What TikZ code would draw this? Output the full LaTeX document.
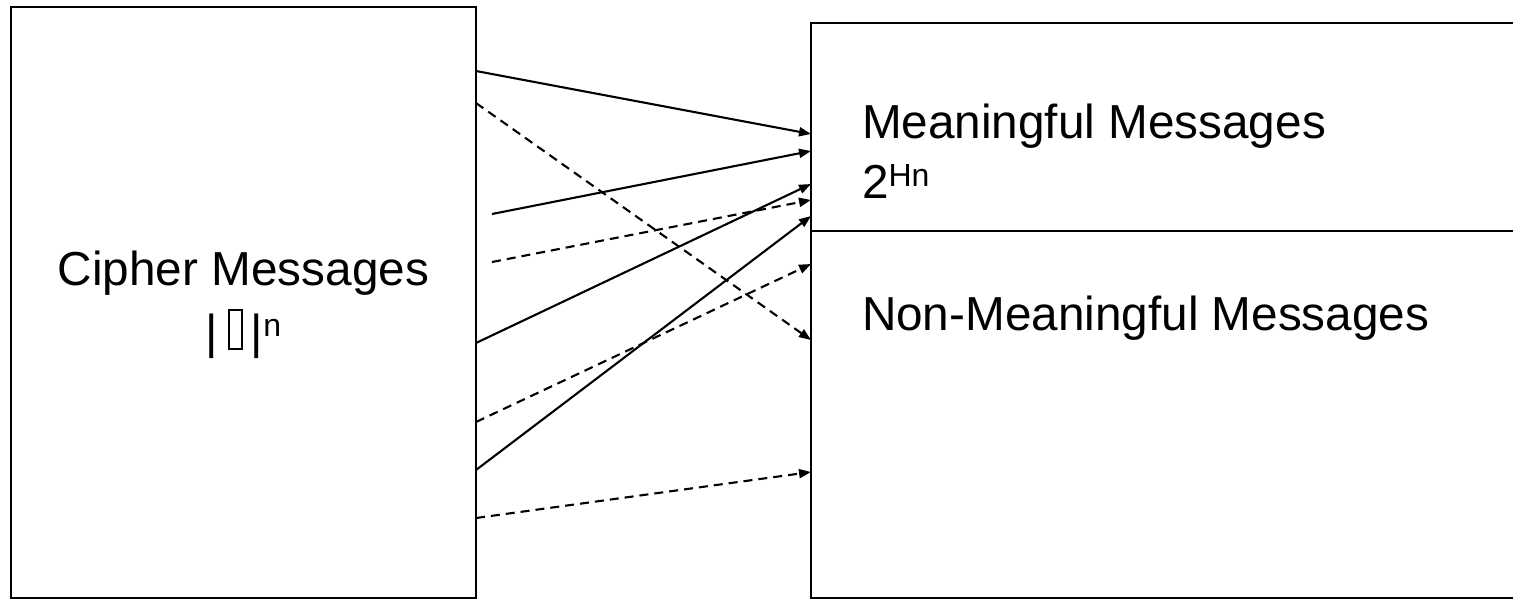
\documentclass[tikz,border=0pt]{standalone}
\usepackage{fontspec}
\setmainfont{Liberation Sans}
\usetikzlibrary{arrows.meta}

% raised small text for exponents
\newcommand\supr[1]{\raisebox{12pt}{\fontsize{32}{36}\selectfont #1}}
% hollow placeholder glyph
\newcommand\tofubox{\hspace*{10pt}\begingroup\setlength\fboxsep{0pt}\setlength\fboxrule{1.8pt}\fbox{\rule{0pt}{37pt}\hspace*{11pt}}\endgroup\hspace*{8pt}}

\begin{document}
\begin{tikzpicture}[x=1pt,y=-1pt,
  box/.style={draw, line width=2.4pt, inner sep=0pt, outer sep=0pt, anchor=north west},
  lbl/.style={font=\fontsize{47.7}{57}\selectfont, inner sep=0pt, outer sep=0pt},
  link/.style={line width=2.1pt, -{Triangle[length=12pt,width=9pt]}},
  dlink/.style={link, dash pattern=on 9pt off 6pt}]
\useasboundingbox (0,0) rectangle (1513,598);
\clip (0,0) rectangle (1513,598);

% the two message sets
\node[box, minimum width=465pt, minimum height=591pt] (cipher) at (11,7) {};
\node[box, minimum width=720pt, minimum height=575pt] (target) at (811,23) {};
\coordinate (divL) at (target.west |- 0,231);
\coordinate (divR) at (target.east |- 0,231);
\draw[line width=2.4pt] (divL) -- (divR);

% labels
\node[lbl, anchor=base] (ciphtxt) at (243.5,285) {Cipher Messages};
\node[lbl, anchor=base] (ciphsize) at (243.5,348) {|\tofubox|\supr{n}};
\node[lbl, anchor=base west] (meantxt) at (862,138) {Meaningful Messages};
\node[lbl, anchor=base west] (meansize) at (862,198) {2\supr{Hn}};
\node[lbl, anchor=base west] (nonmean) at (862,330) {Non-Meaningful Messages};

% start points on (or near) the cipher set
\coordinate (s1) at (cipher.east |- 0,71);
\coordinate (s2) at (cipher.east |- 0,103);
\coordinate (s3) at (492,214);
\coordinate (s4) at (492,262);
\coordinate (s5) at (cipher.east |- 0,343);
\coordinate (s6) at (cipher.east |- 0,422);
\coordinate (s7) at (cipher.east |- 0,470);
\coordinate (s8) at (cipher.east |- 0,518);
% end points on the target set
\coordinate (t1) at (target.west |- 0,134);
\coordinate (t2) at (target.west |- 0,340);
\coordinate (t3) at (target.west |- 0,151);
\coordinate (t4) at (target.west |- 0,200);
\coordinate (t5) at (target.west |- 0,184);
\coordinate (t6) at (target.west |- 0,264);
\coordinate (t7) at (target.west |- 0,216);
\coordinate (t8) at (target.west |- 0,472);

% decryption mappings
\draw[link]  (s1) -- (t1);
\draw[dlink] (s2) -- (t2);
\draw[link]  (s3) -- (t3);
\draw[dlink] (s4) -- (t4);
\draw[link]  (s5) -- (t5);
\draw[dlink] (s6) -- (t6);
\draw[link]  (s7) -- (t7);
\draw[dlink] (s8) -- (t8);
\end{tikzpicture}
\end{document}
